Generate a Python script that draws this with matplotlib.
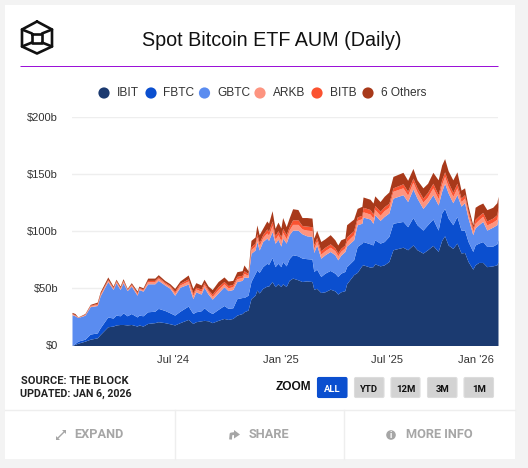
import numpy as np
import matplotlib
matplotlib.use("Agg")
import matplotlib.pyplot as plt
from matplotlib.patches import Rectangle, FancyBboxPatch, Circle, Polygon
from matplotlib.transforms import ScaledTranslation

W, H = 528, 468
launch = np.datetime64("2024-01-11")

days = [0,5,10,22,31,43,48,61,70,75,82,87,94,101,111,114,121,129,141,147,158,167,175,184,198,206,211,220,225,232,239,249,259,266,274,281,290,293,300,305,312,315,319,325,332,335,341,346,351,356,359,365,370,376,385,392,400,409,412,417,424,431,440,448,453,458,465,468,480,486,494,496,508,513,516,525,532,540,547,564,572,581,588,598,606,615,624,630,635,641,649,656,663,669,675,683,687,693,700,707,717,724,726]

# Values are stack tops in $b
ibit_top = [0,1,2,3.8,5.5,6.7,9.6,16.4,17,18,18.4,18.4,18,18.4,17,18,17,19.3,20,20.8,20,19,18,20,22.8,19.3,20.8,21.6,22,21.6,20,22,23.7,22.8,23.7,26.6,28,29.5,31,41,44,48.5,46,50,52,52,56,51.5,54,51.6,54,51.6,57,59,57.5,56,56.5,56,49.3,50,46.4,47,49.3,47.8,45,47,48,54,62,64,70,70.6,68.6,69,71.5,69.7,70.6,73.5,83.8,86,83.8,88,83.8,80.9,83.8,87.6,82.3,92,96,88,85,89.6,81,81.4,73.5,66.8,70.6,72.7,72.7,69,69.7,70.6,73.5]
fbtc_top = [0,1.8,3.8,5.5,10,11,15.5,25,24,26.6,26,28.6,26,28,25,26.6,26,29.5,30,32.5,30.7,28.6,26.6,30,34.5,28,29.5,30.4,33,30,28,31.6,35,32.5,33,41,42,42,44,56,63,66,64,69,72,71,77,69,72,69,73.6,69.7,76,79.4,78.5,76.5,76,75.6,64.8,66.8,60.4,63.3,65.7,63.3,60.4,63.3,64.8,69,75,86.7,89.6,91,89,88,92.5,89.6,91,95.5,107,108.6,104,112,105.7,101,105.7,110.7,101,116,120,111.6,105.7,113,101,101,91,82.3,88,89.6,91,86.7,87,89,93]
gbtc_top = [27,26,24.5,26.5,34,35,43.5,56,49,55,49,55,48,52,44,49,47.6,54,54,57,53,50,44,51,53.8,41,47,45,51,45,40.6,46,51.5,48,49,56,57,60,59.6,80.7,83.6,91,83.6,91,94,92,99.7,89.5,93,87,94,89.6,97,101,101,97.8,96,95.5,81.4,88,76.4,79.4,82.3,79.4,75,79,82.3,87,92.5,105.7,107,112.4,110.7,107,114.5,109.5,113,116,129,132,126,137,129,120,125,132,123,135,142,133.5,125,132,122,125,111.6,97,103,105.7,108.6,101,103.6,105.7,111.6]
arkb_top = [27.5,26.5,24.7,27,34.8,36,44.6,57.2,50,56,50,56.2,48.8,53,45.2,50,48.6,56,56,59,54.5,51.5,46,53,56.5,44,49.5,47.5,53.3,47.5,43,49,54,50.5,51.5,58.5,59.5,63,61.5,84,87,95,87.5,94.5,98.5,96.5,105,93,97,91.5,99,93.5,101,106,106,102,101,100.5,85,91.5,80,83,86,83,78.5,82.5,85.5,91,97,109.5,111,117,115,111.5,119,114,118,121,135,138,131.5,143,134.5,125.5,130,138,128.5,141,148,139,130.5,138,126,129,115,100,107,110,113,105.5,108,110.5,117]
bitb_top = [28,27,24.8,27.4,35.3,36.8,45.5,58,50.8,56.8,50.8,57,49.2,53.8,46.2,50.8,49.4,57,57,60,55.5,52.5,47.5,54.5,58.3,46,51,49.5,55,49,45,51.5,56,52.5,53.5,60.5,61.5,65.5,63,86.5,89.5,98,90,97,102,100,109,96,100.5,95,102.5,97,104,110,110,105,104.5,104,88,94.5,83,86,89,85.5,81,85,88,95,100.5,112.5,114,121,119,115,122.5,117.5,121.5,124.5,138,141.5,135,146.5,138,129,134,142,132,145,152,143,134,142,129,132,117.5,103,110.5,113.5,116.5,109,111.5,114.5,121]
total_top = [29,28,25,28,36,38,47,60,52,58,52,58.5,50,55,47.7,52,50.5,59,59,62,57,54,50,56.5,61.7,50,55,53,58,52,49,56,60,56.4,57,64.6,65.5,70.5,65.5,92,95,105.5,97,102.6,109,107,118,102.6,108,102.8,112,104,111.5,119.7,119,112,112,111.5,94,100.8,91,93.4,97,92.5,88,92.5,94,105.7,110.7,120,121.8,130,128,124.7,131,126,130.6,134.4,148,151.6,144.6,155,145,138,142,151.6,145,158,163.6,153,145,152,136,138,122,105.7,121,123,124.7,118.9,121,125,130.6]

series_names = ["IBIT", "FBTC", "GBTC", "ARKB", "BITB", "6 Others"]
y_ticks = [0, 50, 100, 150, 200]
y_labels = ["$0", "$50b", "$100b", "$150b", "$200b"]
x_tick_dates = ["2024-07-01", "2025-01-01", "2025-07-01", "2026-01-01"]
x_tick_labels = ["Jul '24", "Jan '25", "Jul '25", "Jan '26"]
zoom_labels = ["ALL", "YTD", "12M", "3M", "1M"]
footer_labels = ["EXPAND", "SHARE", "MORE INFO"]

colors = ["#1b3a70", "#0b4fcf", "#5a8cf0", "#fd9480", "#fb5230", "#a8391a"]
SANS = "Liberation Sans"
RB = "Roboto"

fig = plt.figure(figsize=(W / 100, H / 100), dpi=100, facecolor="#f3f3f3")

# pixel overlay
bg = fig.add_axes([0, 0, 1, 1], zorder=0)
bg.set_xlim(0, W); bg.set_ylim(H, 0); bg.axis("off")
bg.add_patch(Rectangle((5, 5), 510, 454, fc="white", ec="none"))
bg.plot([20, 498], [65.5, 65.5], color="#9b12d8", lw=0.72, solid_capstyle="butt")
bg.text(271.5, 40, "Spot Bitcoin ETF AUM (Daily)", family=SANS, fontsize=14.2, color="#111111", ha="center", va="center")

# logo
lk = dict(color="#111111", lw=1.9, solid_capstyle="round", solid_joinstyle="round")
hexagon = [(37, 21.5), (52, 29.5), (52, 46.5), (37, 53.5), (22, 46.5), (22, 29.5), (37, 21.5)]
bg.plot(*zip(*hexagon), **lk)
inner = [(32, 33.5), (42, 33.5), (42, 42.5), (32, 42.5), (32, 33.5)]
bg.plot(*zip(*inner), **lk)
for (a, b), (c, d) in [((22, 29.5), (32, 33.5)), ((52, 29.5), (42, 33.5)), ((22, 46.5), (32, 42.5)), ((52, 46.5), (42, 42.5))]:
    bg.plot([a, c], [b, d], **lk)

# legend
dots_x = [104, 151, 204.5, 260, 317, 368]
text_x = [117, 163, 217, 273, 330, 381]
for name, c, dx, tx in zip(series_names, colors, dots_x, text_x):
    bg.add_patch(Circle((dx, 93), 5.6, fc=c, ec="none"))
    bg.text(tx, 93.2, name, family=SANS, fontsize=8.6, color="#333333", ha="left", va="center")

# chart
L, R, T, B = 72, 498, 117, 345.5
ax = fig.add_axes([L / W, 1 - B / H, (R - L) / W, (B - T) / H], zorder=1)
ax.patch.set_alpha(0)
dates = launch + np.array(days, dtype="timedelta64[D]")
tops = [np.zeros(len(days)), ibit_top, fbtc_top, gbtc_top, arkb_top, bitb_top, total_top]
for i, c in enumerate(colors):
    ax.fill_between(dates, tops[i], tops[i + 1], color=c, lw=0, zorder=2, label=series_names[i])
ax.set_xlim(launch, launch + np.timedelta64(726, "D"))
ax.set_ylim(0, 200)
ax.set_yticks(y_ticks, y_labels)
ax.set_xticks(np.array(x_tick_dates, dtype="datetime64[D]"), x_tick_labels)
ax.grid(axis="y", color="#eeeeee", lw=1, zorder=0)
ax.set_axisbelow(True)
for s in ax.spines.values():
    s.set_visible(False)
ax.tick_params(length=0, labelsize=8.0, labelcolor="#333333")
ax.tick_params(axis="y", pad=10)
ax.tick_params(axis="x", pad=7)
for t in ax.get_xticklabels() + ax.get_yticklabels():
    t.set_family(SANS)
last = ax.get_xticklabels()[-1]
last.set_ha("right")
last.set_transform(last.get_transform() + ScaledTranslation(-1.5 / 100, 0, fig.dpi_scale_trans))

# source
bg.text(21, 381.5, "SOURCE: THE BLOCK", family=RB, weight="bold", fontsize=8.0, color="#222222", ha="left", va="center")
bg.text(20, 393.5, "UPDATED: JAN 6, 2026", family=RB, weight="bold", fontsize=7.7, color="#222222", ha="left", va="center")

# zoom buttons
bg.text(293, 387, "ZOOM", family=SANS, weight="bold", fontsize=8.6, color="#111111", ha="center", va="center")
for i, (lab, x0, x1) in enumerate(zip(zoom_labels, [316.5, 353.5, 390, 426.5, 463], [348, 385, 421, 458, 494.5])):
    active = i == 0
    bg.add_patch(FancyBboxPatch((x0 + 1, 377.5), x1 - x0 - 2, 20, boxstyle="round,pad=0,rounding_size=1.5",
                                fc="#0b4fcf" if active else "#d3d3d3",
                                ec="#0b4fcf" if active else "#dcdcdc", lw=0.8))
    bg.text((x0 + x1) / 2, 389, lab, family=RB, weight="bold", fontsize=6.8,
            color="white" if active else "#111111", ha="center", va="center")

# footer
bg.plot([5, 515], [409.5, 409.5], color="#eeeeee", lw=1)
for xv in (175, 344):
    bg.plot([xv, xv], [410, 459], color="#eeeeee", lw=1)
for lab, cx in zip(footer_labels, [98.5, 269, 439.5]):
    bg.text(cx, 435, lab, family=RB, weight="bold", fontsize=9.2, color="#a6a6a6", ha="center", va="center")

# footer icons
g = "#a6a6a6"
bg.plot([57, 65], [439, 431], color=g, lw=1.0)
bg.add_patch(Polygon([(56, 440), (56, 436), (60, 440)], fc=g, ec="none"))
bg.add_patch(Polygon([(66, 430), (62, 430), (66, 434)], fc=g, ec="none"))
bg.add_patch(Polygon([(234, 430), (240, 434.5), (234, 438.5)], fc=g, ec="none"))
bg.plot([234.5, 231, 230.5], [433.5, 434, 439.5], color=g, lw=2, solid_capstyle="butt")
bg.add_patch(Circle((391, 435), 4.8, fc=g, ec="none"))
bg.text(391, 435.2, "i", family=RB, weight="bold", fontsize=6.5, color="white", ha="center", va="center")

fig.savefig("out.png", dpi=100, facecolor=fig.get_facecolor())
